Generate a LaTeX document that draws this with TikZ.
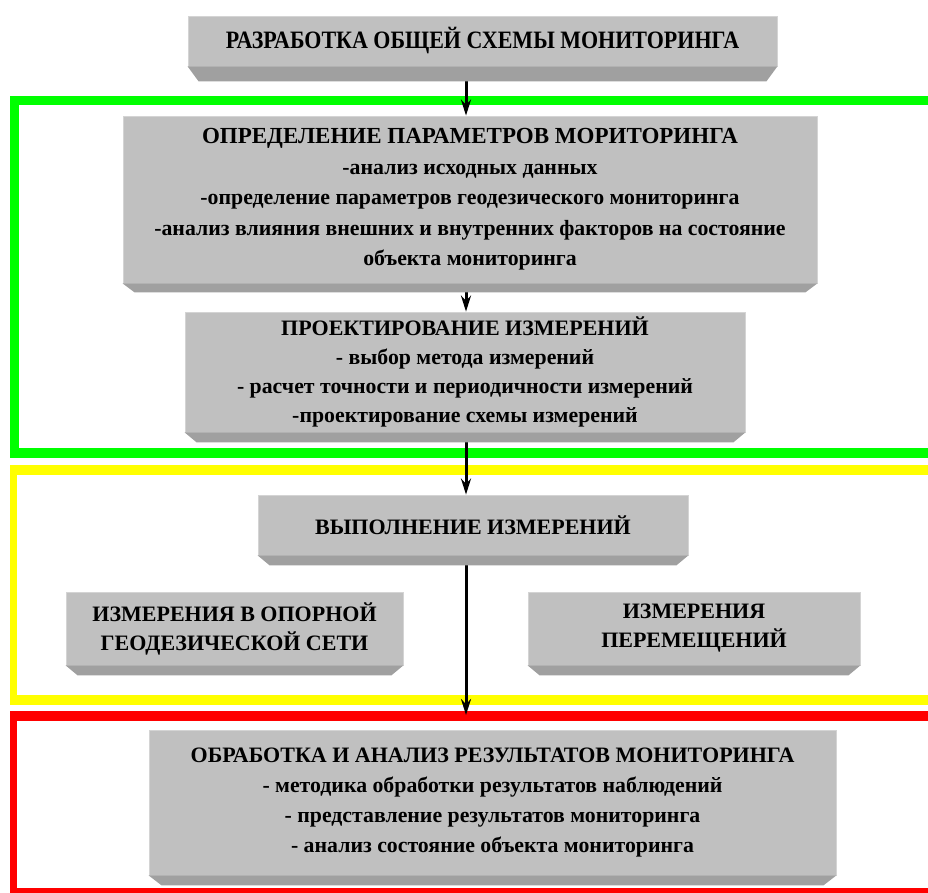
\documentclass[tikz,border=0pt]{standalone}
\usepackage{fontspec}
\setmainfont{Liberation Serif}
\newfontfamily\condfont[FakeStretch=0.88]{Liberation Serif}
\usetikzlibrary{arrows.meta,calc,backgrounds}
\definecolor{boxgray}{HTML}{C0C0C0}
\definecolor{boxedge}{HTML}{D4D4D4}
\definecolor{bevgray}{HTML}{A0A0A0}
\definecolor{fgreen}{HTML}{00FF00}
\definecolor{fyellow}{HTML}{FFFF00}
\definecolor{fred}{HTML}{FF0000}
\newcommand\mybevel[3]{%
  \fill[bevgray] (#1.south west) -- ++(#3,#2) -- ($(#1.south east)+(-#3,#2)$) -- (#1.south east) -- cycle;}
\newcommand\ttl[1]{{\fontsize{22}{22}\selectfont #1}}
\begin{document}
\begin{tikzpicture}[x=1pt,y=-1pt,
  face/.style={fill=boxgray, draw=boxedge, line width=0.8pt, inner sep=0pt, align=center,
    font=\fontsize{21.8}{29}\selectfont\bfseries},
  conn/.style={line width=3pt, -{Stealth[length=16pt,width=10pt]}}]
\useasboundingbox (0,0) rectangle (928,893);
\coordinate (ax) at (466,0);
% boxes
\node[face, font=\fontsize{25}{28}\condfont\bfseries, minimum width=589pt, minimum height=50pt] (b1) at (482.5,41) {РАЗРАБОТКА ОБЩЕЙ СХЕМЫ МОНИТОРИНГА};
\mybevel{b1}{15}{11}
\node[face, font=\fontsize{21.8}{30.5}\selectfont\bfseries, minimum width=694pt, minimum height=167pt] (b2) at (470,199.5) {{\fontsize{23}{23}\selectfont ОПРЕДЕЛЕНИЕ ПАРАМЕТРОВ МОРИТОРИНГА}\\
-анализ исходных данных\\
-определение параметров геодезического мониторинга\\
-анализ влияния внешних и внутренних факторов на состояние\\
объекта мониторинга};
\mybevel{b2}{9}{12}
\node[face, minimum width=560pt, minimum height=120pt] (b3) at (465,372) {\ttl{ПРОЕКТИРОВАНИЕ ИЗМЕРЕНИЙ}\\
- выбор метода измерений\\
- расчет точности и периодичности измерений\\
-проектирование схемы измерений};
\mybevel{b3}{10}{12}
\node[face, minimum width=430pt, minimum height=60pt] (b4) at (473,525) {\ttl{ВЫПОЛНЕНИЕ ИЗМЕРЕНИЙ}};
\mybevel{b4}{10}{12}
\node[face, font=\fontsize{22}{29}\selectfont\bfseries, minimum width=337pt, minimum height=73pt] (b5) at (234.5,628.5) {ИЗМЕРЕНИЯ В ОПОРНОЙ\\ГЕОДЕЗИЧЕСКОЙ СЕТИ};
\mybevel{b5}{10}{12}
\node[face, font=\fontsize{22}{29}\selectfont\bfseries, minimum width=332pt, minimum height=73pt] (b6) at (694,628.5) {ИЗМЕРЕНИЯ\\ПЕРЕМЕЩЕНИЙ};
\mybevel{b6}{10}{12}
\node[face, font=\fontsize{21.8}{30}\selectfont\bfseries, minimum width=687pt, minimum height=145pt] (b7) at (492.5,802.5) {\ttl{ОБРАБОТКА И АНАЛИЗ РЕЗУЛЬТАТОВ МОНИТОРИНГА}\\
- методика обработки результатов наблюдений\\
- представление результатов мониторинга\\
- анализ состояние объекта мониторинга};
\mybevel{b7}{10}{13}
\coordinate (redtop) at (466,715);
\begin{scope}[on background layer]
  % green frame
  \fill[fgreen] (10,96) rectangle (928,105);
  \fill[fgreen] (10,96) rectangle (19,458);
  \fill[fgreen] (10,448) rectangle (928,458);
  % yellow frame
  \fill[fyellow] (10,465) rectangle (928,475);
  \fill[fyellow] (10,465) rectangle (17,705);
  \fill[fyellow] (10,695) rectangle (928,705);
  % red frame
  \fill[fred] (10,711) rectangle (928,721);
  \fill[fred] (10,711) rectangle (17,893);
  \fill[fred] (10,888) rectangle (928,893);
  % connectors
  \draw[conn] (b1.south -| ax) -- (b2.north -| ax);
  \draw[conn] (b2.south -| ax) -- (b3.north -| ax);
  \draw[conn] (b3.south -| ax) -- (b4.north -| ax);
  \draw[conn] (b4.south -| ax) -- (redtop);
\end{scope}
\end{tikzpicture}
\end{document}
